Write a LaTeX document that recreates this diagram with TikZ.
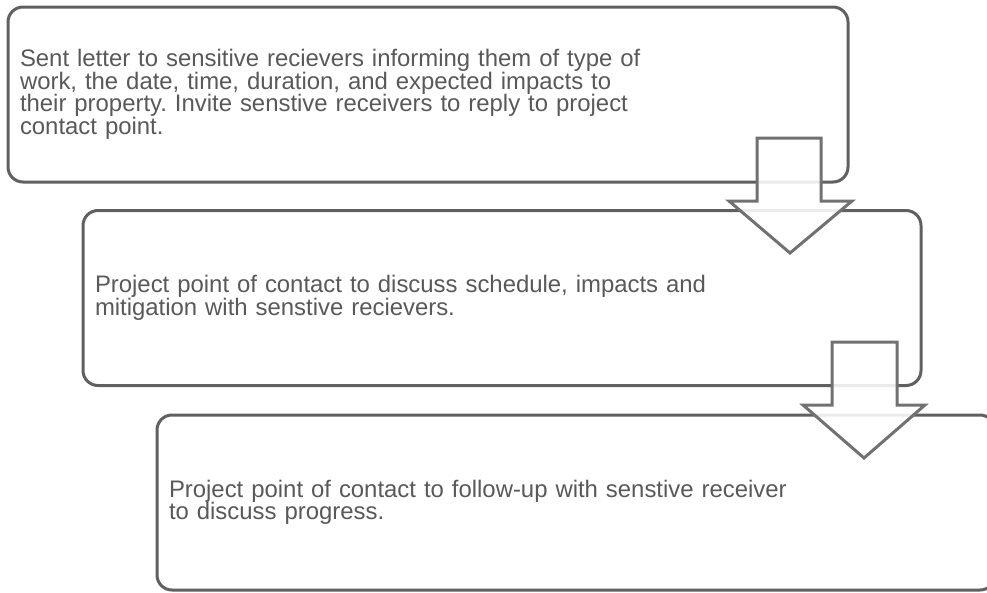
\documentclass[tikz,border=0pt]{standalone}
\usepackage{fontspec}
\setmainfont{Liberation Sans}
\frenchspacing
\definecolor{boxline}{HTML}{606060}
\definecolor{arrline}{HTML}{717171}
\definecolor{txt}{HTML}{595959}
\begin{document}
\begin{tikzpicture}[x=1pt,y=-1pt,
  stagebox/.style={draw=boxline, line width=3pt, rounded corners=15pt, fill=white,
    minimum height=175pt, inner xsep=12pt, inner ysep=0pt, align=left,
    text=txt, font=\fontsize{23.9}{22.6}\selectfont},
  blockarrow/.style={draw=arrline, line width=3pt, fill=white, fill opacity=0.88, line join=miter}]
\useasboundingbox (0,0) rectangle (987,592);
\node[stagebox, minimum width=840pt, text width=816pt] (b1) at (428,94.5) {Sent letter to sensitive recievers informing them of type of\\work, the date, time, duration, and expected impacts to\\their property. Invite senstive receivers to reply to project\\contact point.\\[8pt]};
\node[stagebox, minimum width=838pt, text width=814pt] (b2) at (502,298) {Project point of contact to discuss schedule, impacts and\\mitigation with senstive recievers.};
\node[stagebox, minimum width=838pt, text width=814pt] (b3) at (576,502.5) {Project point of contact to follow-up with senstive receiver\\to discuss progress.\\[-2pt]};
\draw[blockarrow] (757,138) -- (821,138) -- (821,201) -- (852,201) -- (790,253) -- (729,201) -- (757,201) -- cycle;
\draw[blockarrow] (832,342) -- (897,342) -- (897,405) -- (925,405) -- (864,458) -- (803,405) -- (832,405) -- cycle;
\end{tikzpicture}
\end{document}
